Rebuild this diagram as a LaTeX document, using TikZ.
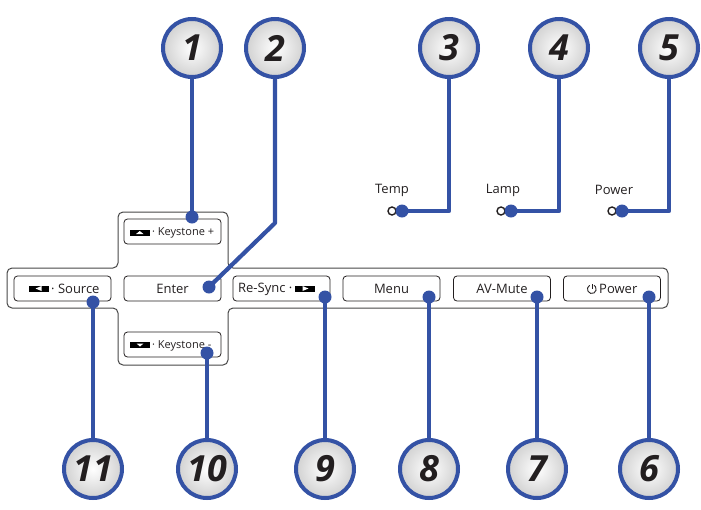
\documentclass[tikz,border=0pt]{standalone}
\usepackage{fontspec}
\setmainfont{Open Sans}
\definecolor{cblue}{RGB}{52,82,165}
\definecolor{ctext}{RGB}{35,31,32}
\definecolor{cpanel}{RGB}{70,70,70}
\begin{document}
\begin{tikzpicture}[x=1pt,y=-1pt,
  callout/.style={circle, draw=cblue, line width=4pt, minimum size=58pt, inner sep=0pt,
    inner color=white, outer color=black!18,
    font=\fontsize{36}{36}\selectfont\bfseries\itshape, text=ctext},
  conn/.style={draw=cblue, line width=4.2pt, line join=round},
  hotspot/.style={circle, fill=cblue, minimum size=13pt, inner sep=0pt},
  btn/.style={draw=ctext, line width=0.8pt, rounded corners=3.5pt, minimum width=97pt,
    minimum height=25pt, inner sep=0pt, font=\fontsize{13}{13}\selectfont, text=ctext},
  btxt/.style={inner sep=0pt, font=\fontsize{13}{13}\selectfont, text=ctext},
  ktxt/.style={inner sep=0pt, font=\fontsize{11}{11}\selectfont, text=ctext},
  ledlabel/.style={inner sep=0pt, font=\fontsize{13}{13}\selectfont, text=ctext},
  led/.style={circle, draw=ctext, line width=1.4pt, minimum size=8pt, inner sep=0pt, fill=white},
  panel/.style={draw=cpanel, line width=1pt, rounded corners=5pt}
]
\useasboundingbox (0,0) rectangle (701,509);

% panel outline
\draw[panel] (173,212) -- (228,212) -- (228,268) -- (668,268) -- (668,308) -- (228,308)
  -- (228,365) -- (118,365) -- (118,308) -- (7,308) -- (7,268) -- (118,268) -- (118,212) -- cycle;

% buttons
\node[btn] (bkp) at (172.5,231.5) {};
\node[btn] (bsrc) at (62.5,288.5) {};
\node[btn] (bent) at (172.5,288.5) {Enter};
\node[btn] (brs) at (281.5,288.5) {};
\node[btn] (bmenu) at (391.5,288.5) {Menu};
\node[btn] (bav) at (502,288.5) {AV-Mute};
\node[btn] (bpow) at (612,288.5) {};
\node[btn] (bkm) at (172.5,344.5) {};

% button icons and texts
\fill[black] (130,229.5) rectangle (149.5,235.5);
\fill[white] (136,234) -- (143.5,234) -- (139.75,231) -- cycle;
\node[ktxt, anchor=west] (tkp) at (152,232.5) {· Keystone +};

\fill[black] (29,285.5) rectangle (49,291.5);
\fill[white] (35.5,288.5) -- (41.5,286) -- (41.5,291) -- cycle;
\node[btxt, anchor=west] (tsrc) at (51,289) {· Source};

\node[btxt, anchor=east] (trs) at (292.5,289) {Re-Sync ·};
\fill[black] (295,285.5) rectangle (315,291.5);
\fill[white] (308.5,288.5) -- (302.5,286) -- (302.5,291) -- cycle;

\fill[black] (130,342) rectangle (150,348);
\fill[white] (136.5,343.5) -- (143.5,343.5) -- (140,346.5) -- cycle;
\node[ktxt, anchor=west] (tkm) at (152,345.5) {· Keystone -};

\draw[ctext, line width=0.9pt] (589.6,285.3) arc[start angle=120, end angle=420, radius=4.4pt];
\draw[ctext, line width=0.9pt] (592,288.8) -- (592,284);
\node[btxt, anchor=west] (tpow) at (599,289) {Power};

% LEDs
\node[ledlabel] (ltemp) at (392,190) {Temp};
\node[ledlabel] (llamp) at (503,190) {Lamp};
\node[ledlabel] (lpow) at (614,190) {Power};
\node[led] (led3) at (392,211) {};
\node[led] (led4) at (501,211) {};
\node[led] (led5) at (612,211) {};

% callout circles
\node[callout] (c1) at (192,48) {1};
\node[callout] (c2) at (275,48) {2};
\node[callout] (c3) at (449,48) {3};
\node[callout] (c4) at (559,48) {4};
\node[callout] (c5) at (669,48) {5};
\node[callout] (c6) at (649,469) {6};
\node[callout] (c7) at (537,469) {7};
\node[callout] (c8) at (429,469) {8};
\node[callout] (c9) at (325,469) {9};
\node[callout] (c10) at (207,469) {10};
\node[callout] (c11) at (93,469) {11};

% hotspots
\node[hotspot] (d1) at (192,217) {};
\node[hotspot] (d2) at (209,287) {};
\node[hotspot] (d3) at (402,211) {};
\node[hotspot] (d4) at (511,211) {};
\node[hotspot] (d5) at (622,211) {};
\node[hotspot] (d6) at (649,297) {};
\node[hotspot] (d7) at (537,297) {};
\node[hotspot] (d8) at (429,297) {};
\node[hotspot] (d9) at (325,297) {};
\node[hotspot] (d10) at (207,353) {};
\node[hotspot] (d11) at (93,302) {};

\coordinate (k2) at (275,223);

% connectors
\draw[conn] (c1.south) -- (d1.center);
\draw[conn] (c2.south) -- (k2) -- (d2.center);
\draw[conn] (c3.south) |- (d3.center);
\draw[conn] (c4.south) |- (d4.center);
\draw[conn] (c5.south) |- (d5.center);
\draw[conn] (d6.center) -- (c6.north);
\draw[conn] (d7.center) -- (c7.north);
\draw[conn] (d8.center) -- (c8.north);
\draw[conn] (d9.center) -- (c9.north);
\draw[conn] (d10.center) -- (c10.north);
\draw[conn] (d11.center) -- (c11.north);
\end{tikzpicture}
\end{document}
